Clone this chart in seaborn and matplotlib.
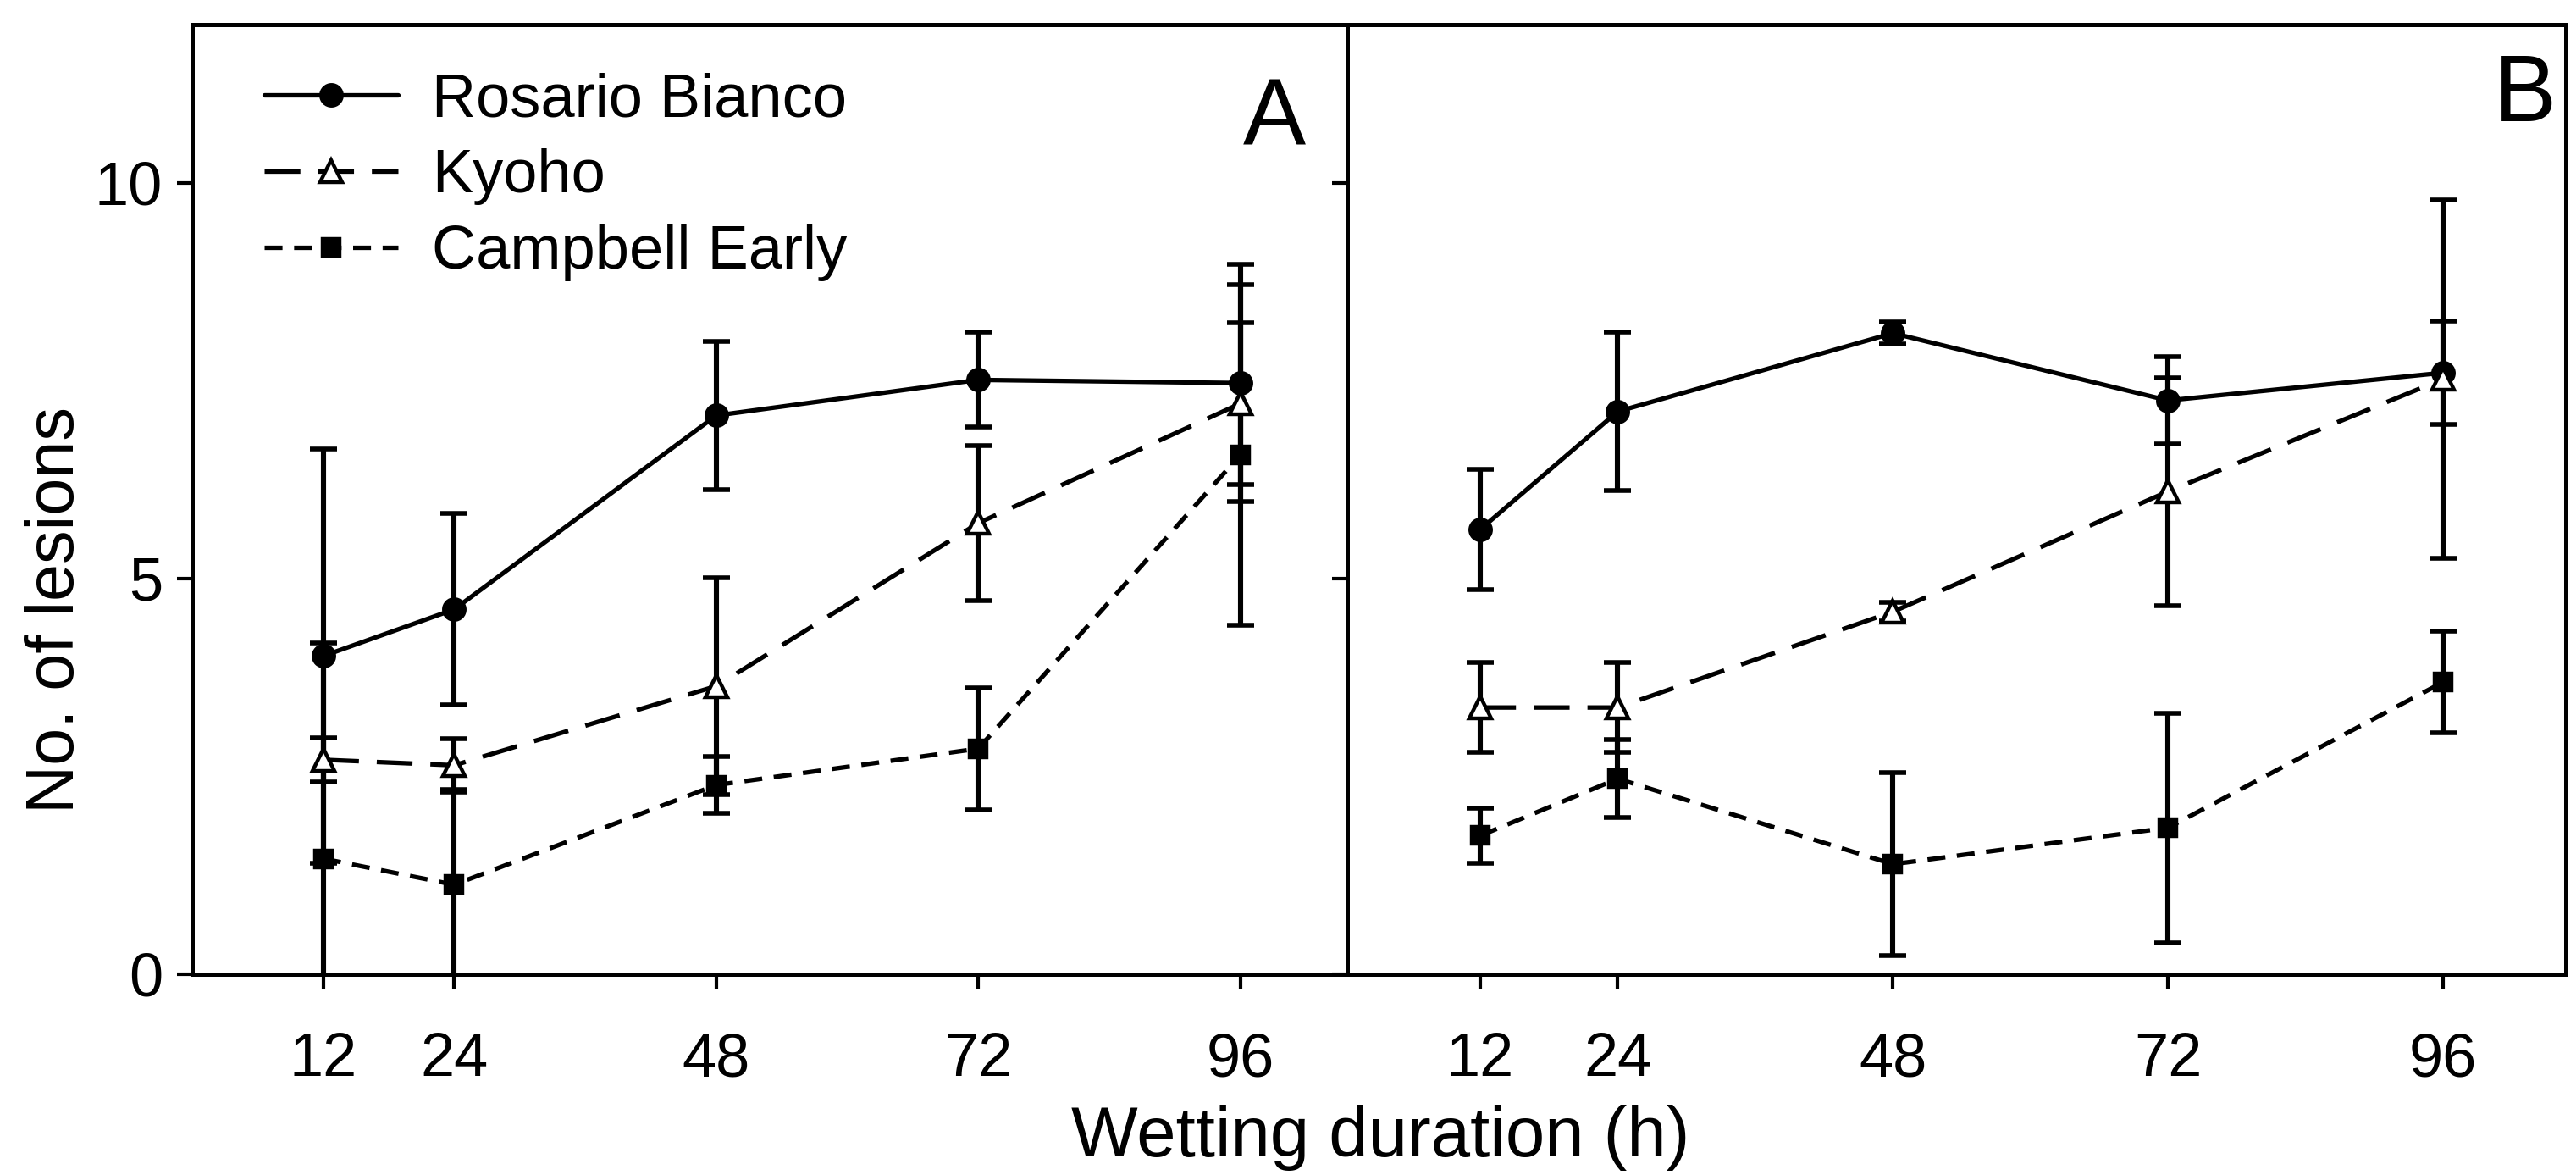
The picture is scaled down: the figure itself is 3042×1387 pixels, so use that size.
import numpy as np
import pandas as pd
import matplotlib
matplotlib.use("Agg")
import matplotlib.pyplot as plt
import seaborn as sns

# wetting duration (h)
hours = [12, 24, 48, 72, 96]
cultivars = ["Rosario Bianco", "Kyoho", "Campbell Early"]

# panel A: mean no. of lesions and error
a_rosario = [4.02, 4.61, 7.06, 7.51, 7.47]
a_rosario_err = [2.62, 1.21, 0.94, 0.60, 1.50]
a_kyoho = [2.71, 2.64, 3.64, 5.70, 7.21]
a_kyoho_err = [0.28, 0.34, 1.37, 0.98, 1.02]
a_campbell = [1.46, 1.13, 2.39, 2.85, 6.56]
a_campbell_err = [2.72, 1.20, 0.36, 0.77, 2.15]

# panel B
b_rosario = [5.62, 7.11, 8.10, 7.25, 7.60]
b_rosario_err = [0.76, 1.00, 0.14, 0.55, 0.65]
b_kyoho = [3.37, 3.37, 4.58, 6.10, 7.52]
b_kyoho_err = [0.57, 0.57, 0.12, 1.44, 2.26]
b_campbell = [1.75, 2.47, 1.39, 1.85, 3.69]
b_campbell_err = [0.35, 0.49, 1.16, 1.45, 0.64]

# line / marker style per cultivar
styles = {
    "Rosario Bianco": dict(marker="o", ms=8.8, mfc="black", ls="-"),
    "Kyoho": dict(marker="^", ms=9.5, mfc="white", ls=(0, (8, 4))),
    "Campbell Early": dict(marker="s", ms=7.4, mfc="black", ls=(0, (4, 2.6))),
}


def make_df(means, errs):
    rows = []
    for name, m, e in zip(cultivars, means, errs):
        for h, v, s in zip(hours, m, e):
            rows.append({"hours": h, "lesions": v, "err": s, "cultivar": name})
    return pd.DataFrame(rows)


df_a = make_df([a_rosario, a_kyoho, a_campbell], [a_rosario_err, a_kyoho_err, a_campbell_err])
df_b = make_df([b_rosario, b_kyoho, b_campbell], [b_rosario_err, b_kyoho_err, b_campbell_err])

sns.set_style("ticks")
plt.rcParams["font.family"] = ["Liberation Sans", "DejaVu Sans"]
plt.rcParams["text.color"] = "black"
plt.rcParams["axes.labelcolor"] = "black"
plt.rcParams["xtick.color"] = "black"
plt.rcParams["ytick.color"] = "black"

fig = plt.figure(figsize=(15.21, 6.935), dpi=200)
ax_a = fig.add_axes([0.0746, 0.1709, 0.4484, 0.8082])
ax_b = fig.add_axes([0.5230, 0.1709, 0.4730, 0.8082])


def draw_panel(ax, df):
    for name in cultivars:
        sub = df[df["cultivar"] == name]
        st = styles[name]
        ax.errorbar(sub["hours"], sub["lesions"], yerr=sub["err"], fmt="none",
                    ecolor="black", elinewidth=2.2, capsize=5.8, capthick=2.0, zorder=2)
        sns.lineplot(data=sub, x="hours", y="lesions", ax=ax, color="black",
                     linewidth=1.9, linestyle=st["ls"], marker=st["marker"],
                     markersize=st["ms"], markerfacecolor=st["mfc"],
                     mec="black", mew=1.6, label=name, legend=False, zorder=3)
    ax.set_ylim(0, 12)
    ax.set_xticks(hours)
    ax.set_yticks([0, 5, 10])
    ax.set_xlabel("")
    ax.set_ylabel("")
    for sp in ax.spines.values():
        sp.set_visible(True)
        sp.set_linewidth(1.8)
        sp.set_color("black")
    ax.tick_params(axis="both", direction="out", length=6.5, width=1.5,
                   colors="black", labelcolor="black", labelsize=26)
    ax.tick_params(axis="x", pad=18)
    ax.tick_params(axis="y", pad=6)


draw_panel(ax_a, df_a)
draw_panel(ax_b, df_b)

ax_a.set_xlim(0, 105.8)
ax_b.set_xlim(0.4, 106.7)
ax_b.tick_params(axis="y", labelleft=False)

leg = ax_a.legend(loc="upper left", bbox_to_anchor=(0.062, 0.950), frameon=False,
                  fontsize=26, handlelength=2.2, handletextpad=0.55,
                  labelspacing=0.32, borderpad=0, borderaxespad=0)
for t in leg.get_texts():
    t.set_color("black")

ax_a.text(0.937, 0.90, "A", transform=ax_a.transAxes, fontsize=40,
          ha="center", va="center", color="black")
ax_b.text(0.967, 0.924, "B", transform=ax_b.transAxes, fontsize=40,
          ha="center", va="center", color="black")

fig.text(0.536, 0.016, "Wetting duration (h)", fontsize=30, ha="center",
         va="baseline", color="black")
fig.text(0.022, 1 - 720 / 1387, "No. of lesions", fontsize=28.5, rotation=90,
         ha="center", va="center", color="black")

fig.savefig("out.png", dpi=200)
